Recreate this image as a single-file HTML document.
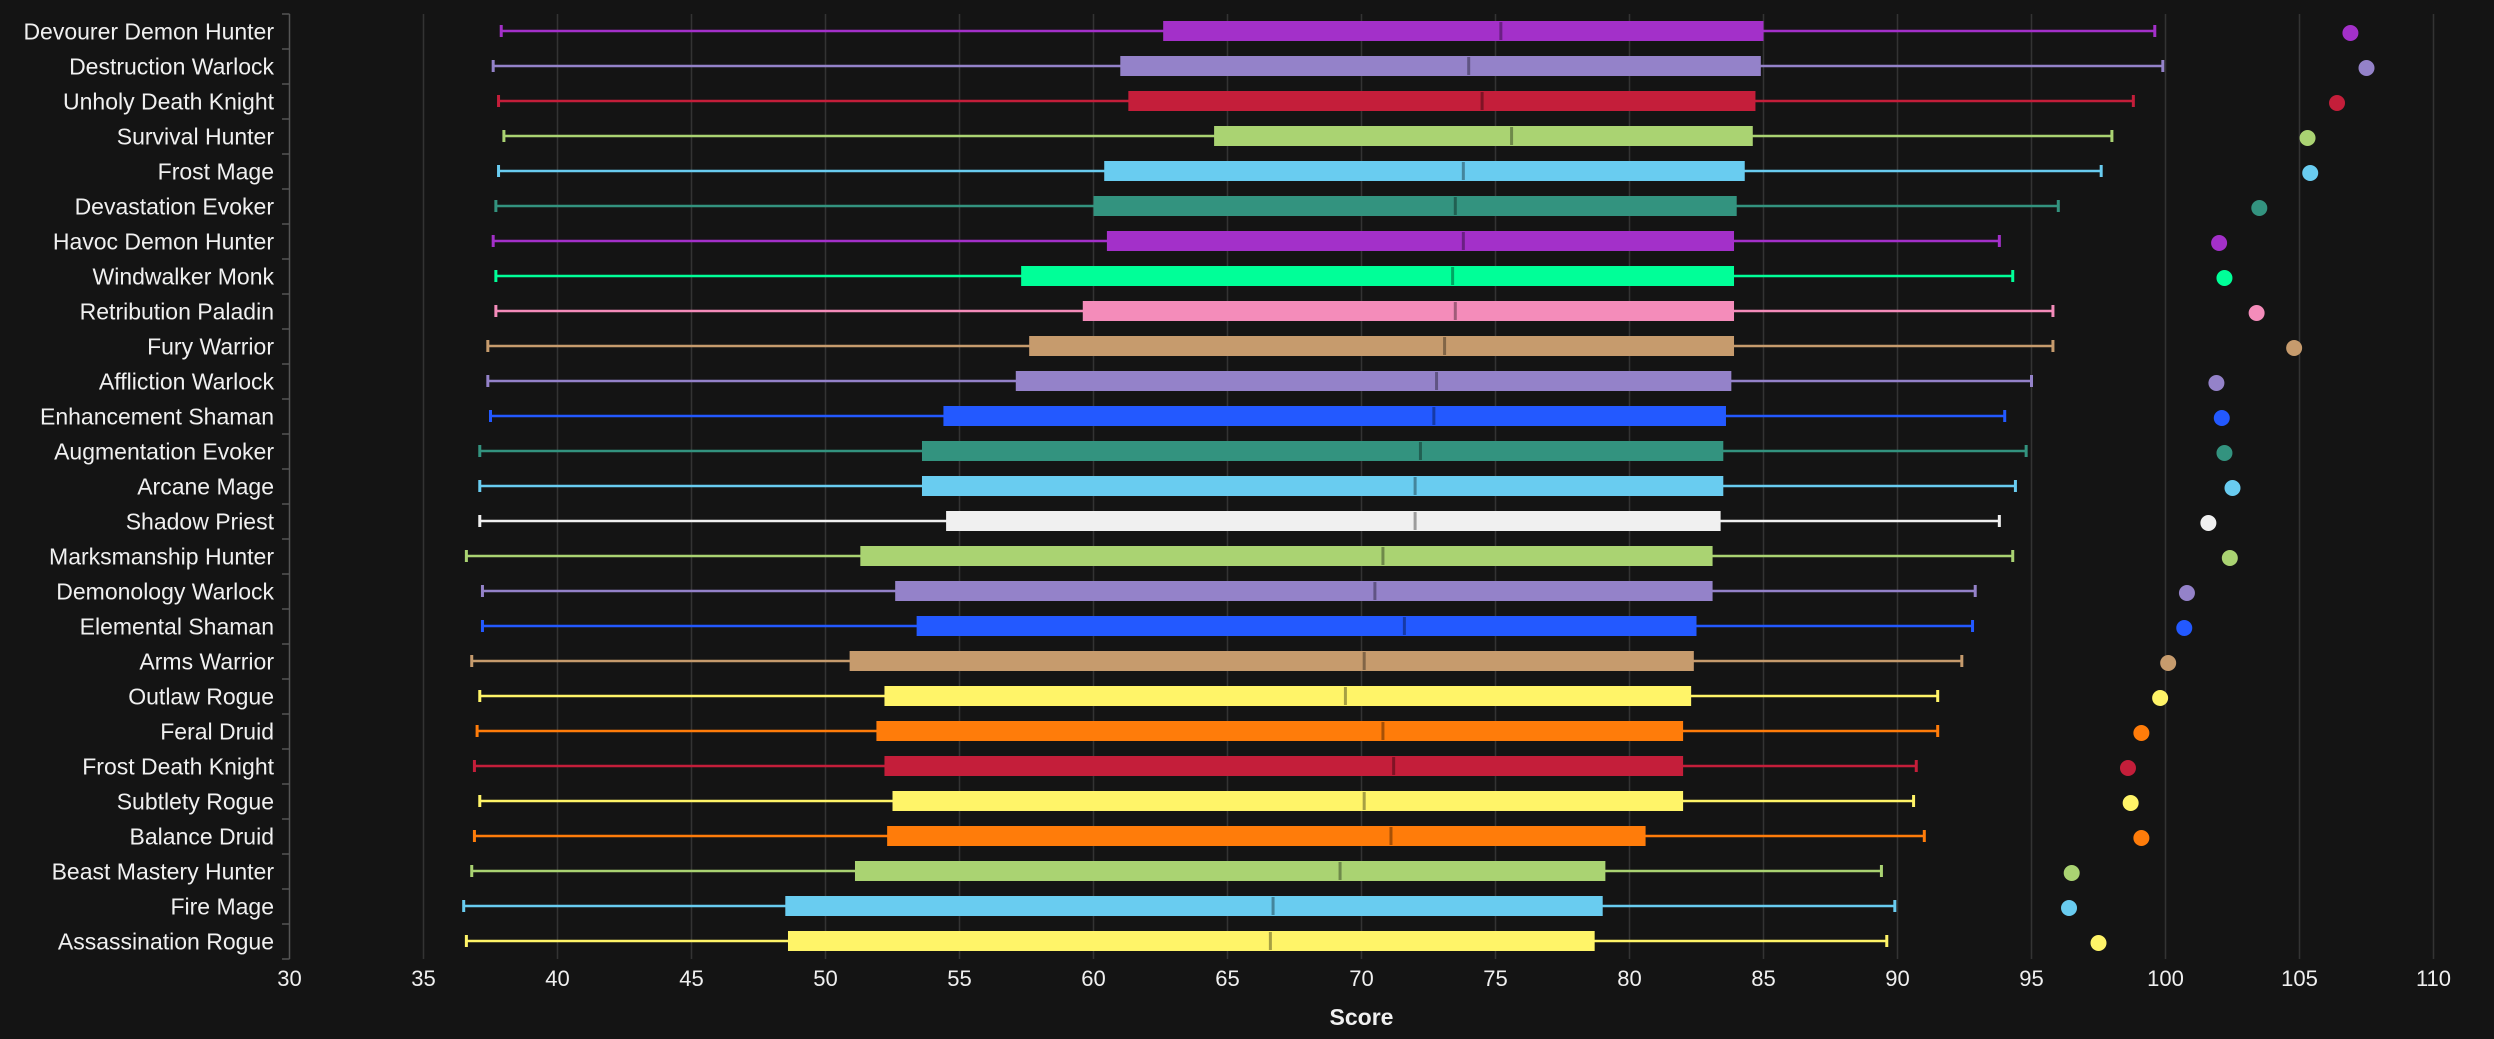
<!DOCTYPE html>
<html><head><meta charset="utf-8"><style>
html,body{margin:0;padding:0;background:#141414;}
svg{display:block;}
text{font-family:"Liberation Sans",sans-serif;fill:#f0f0f0;}
</style></head><body>
<svg id="c" width="2494" height="1039" xmlns="http://www.w3.org/2000/svg">
<rect width="2494" height="1039" fill="#141414"/>
<g id="grid"></g>
<g font-size="23" text-anchor="end">
<text x="274" y="39.5">Devourer Demon Hunter</text>
<text x="274" y="74.5">Destruction Warlock</text>
<text x="274" y="109.5">Unholy Death Knight</text>
<text x="274" y="144.5">Survival Hunter</text>
<text x="274" y="179.5">Frost Mage</text>
<text x="274" y="214.5">Devastation Evoker</text>
<text x="274" y="249.5">Havoc Demon Hunter</text>
<text x="274" y="284.5">Windwalker Monk</text>
<text x="274" y="319.5">Retribution Paladin</text>
<text x="274" y="354.5">Fury Warrior</text>
<text x="274" y="389.5">Affliction Warlock</text>
<text x="274" y="424.5">Enhancement Shaman</text>
<text x="274" y="459.5">Augmentation Evoker</text>
<text x="274" y="494.5">Arcane Mage</text>
<text x="274" y="529.5">Shadow Priest</text>
<text x="274" y="564.5">Marksmanship Hunter</text>
<text x="274" y="599.5">Demonology Warlock</text>
<text x="274" y="634.5">Elemental Shaman</text>
<text x="274" y="669.5">Arms Warrior</text>
<text x="274" y="704.5">Outlaw Rogue</text>
<text x="274" y="739.5">Feral Druid</text>
<text x="274" y="774.5">Frost Death Knight</text>
<text x="274" y="809.5">Subtlety Rogue</text>
<text x="274" y="844.5">Balance Druid</text>
<text x="274" y="879.5">Beast Mastery Hunter</text>
<text x="274" y="914.5">Fire Mage</text>
<text x="274" y="949.5">Assassination Rogue</text>
</g>
<g font-size="22" text-anchor="middle">
<text x="289.5" y="986">30</text>
<text x="423.5" y="986">35</text>
<text x="557.5" y="986">40</text>
<text x="691.5" y="986">45</text>
<text x="825.5" y="986">50</text>
<text x="959.5" y="986">55</text>
<text x="1093.5" y="986">60</text>
<text x="1227.5" y="986">65</text>
<text x="1361.5" y="986">70</text>
<text x="1495.5" y="986">75</text>
<text x="1629.5" y="986">80</text>
<text x="1763.5" y="986">85</text>
<text x="1897.5" y="986">90</text>
<text x="2031.5" y="986">95</text>
<text x="2165.5" y="986">100</text>
<text x="2299.5" y="986">105</text>
<text x="2433.5" y="986">110</text>
<text x="1361.5" y="1025" font-weight="bold" font-size="23">Score</text>
</g>
<g id="data"></g>
</svg>
<script>
var NS="http://www.w3.org/2000/svg";
function X(v){return 289.5+(v-30)*26.8;}
function el(p,t,a){var e=document.createElementNS(NS,t);for(var k in a)e.setAttribute(k,a[k]);p.appendChild(e);return e;}
var g=document.getElementById("grid");
for(var v=35;v<=110;v+=5)el(g,"line",{x1:X(v),x2:X(v),y1:14,y2:959,stroke:"#333","stroke-width":1.5});
el(g,"line",{x1:289.5,x2:289.5,y1:14,y2:959,stroke:"#555","stroke-width":1.5});
for(var i=0;i<=27;i++)el(g,"line",{x1:282,x2:289.5,y1:14+35*i,y2:14+35*i,stroke:"#555","stroke-width":1.5});
var D=[
["#a330c9",37.9,62.6,75.2,85.0,99.6,106.9],
["#9482c9",37.6,61.0,74.0,84.9,99.9,107.5],
["#c41e3a",37.8,61.3,74.5,84.7,98.8,106.4],
["#aad372",38.0,64.5,75.6,84.6,98.0,105.3],
["#69ccf0",37.8,60.4,73.8,84.3,97.6,105.4],
["#33937f",37.7,60.0,73.5,84.0,96.0,103.5],
["#a330c9",37.6,60.5,73.8,83.9,93.8,102.0],
["#00ff98",37.7,57.3,73.4,83.9,94.3,102.2],
["#f48cba",37.7,59.6,73.5,83.9,95.8,103.4],
["#c69b6d",37.4,57.6,73.1,83.9,95.8,104.8],
["#9482c9",37.4,57.1,72.8,83.8,95.0,101.9],
["#2359ff",37.5,54.4,72.7,83.6,94.0,102.1],
["#33937f",37.1,53.6,72.2,83.5,94.8,102.2],
["#69ccf0",37.1,53.6,72.0,83.5,94.4,102.5],
["#f0f0f0",37.1,54.5,72.0,83.4,93.8,101.6],
["#aad372",36.6,51.3,70.8,83.1,94.3,102.4],
["#9482c9",37.2,52.6,70.5,83.1,92.9,100.8],
["#2359ff",37.2,53.4,71.6,82.5,92.8,100.7],
["#c69b6d",36.8,50.9,70.1,82.4,92.4,100.1],
["#fff468",37.1,52.2,69.4,82.3,91.5,99.8],
["#ff7c0a",37.0,51.9,70.8,82.0,91.5,99.1],
["#c41e3a",36.9,52.2,71.2,82.0,90.7,98.6],
["#fff468",37.1,52.5,70.1,82.0,90.6,98.7],
["#ff7c0a",36.9,52.3,71.1,80.6,91.0,99.1],
["#aad372",36.8,51.1,69.2,79.1,89.4,96.5],
["#69ccf0",36.5,48.5,66.7,79.0,89.9,96.4],
["#fff468",36.6,48.6,66.6,78.7,89.6,97.5]];
var d=document.getElementById("data");
D.forEach(function(r,i){
 var y=31+35*i,c=r[0];
 el(d,"line",{x1:X(r[1]),x2:X(r[5]),y1:y,y2:y,stroke:c,"stroke-width":2.5});
 el(d,"rect",{x:X(r[1])-1.5,y:y-6,width:3,height:12,fill:c});
 el(d,"rect",{x:X(r[5])-1.5,y:y-6,width:3,height:12,fill:c});
 el(d,"rect",{x:X(r[2]),y:y-10,width:X(r[4])-X(r[2]),height:20,fill:c});
 el(d,"rect",{x:X(r[3])-1.5,y:y-9,width:3,height:18,fill:"rgba(0,0,0,0.35)"});
 el(d,"ellipse",{cx:X(r[6]),cy:y+2,rx:8,ry:8,fill:c});
});
</script>
</body></html>
